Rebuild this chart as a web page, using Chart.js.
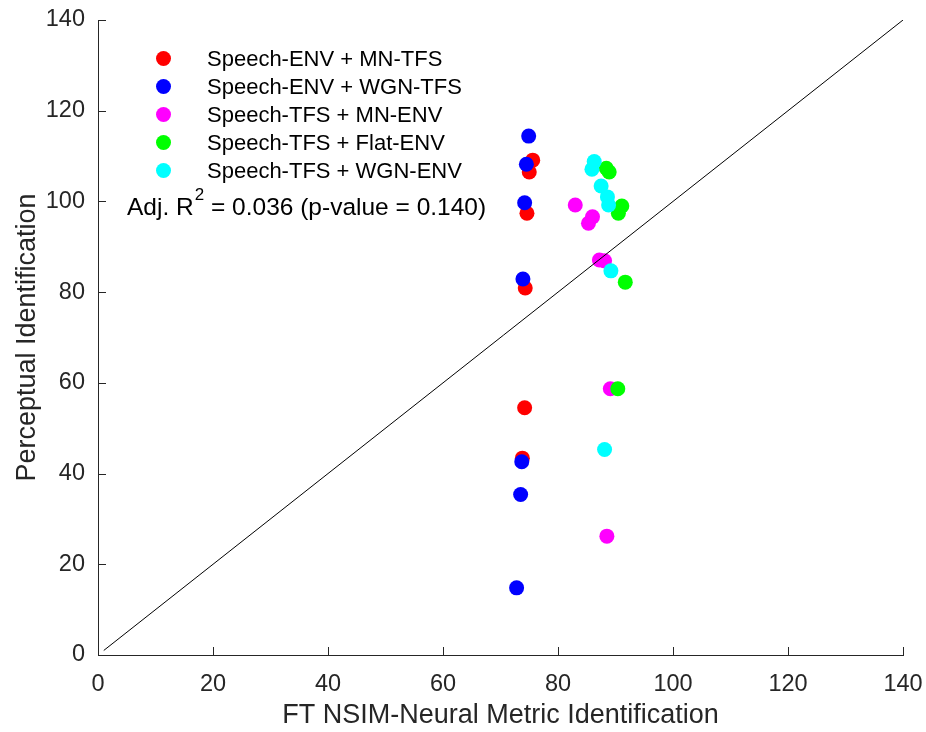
<!DOCTYPE html>
<html>
<head>
<meta charset="utf-8">
<script src="https://cdn.jsdelivr.net/npm/chart.js@4"></script>
<style>
  html, body { margin: 0; padding: 0; background: #fff; }
  #wrap { width: 926px; height: 732px; }
</style>
</head>
<body>
<div id="wrap"><canvas id="c" width="926" height="732"></canvas></div>
<script>
const FONT = "'Liberation Sans', Arial, sans-serif";
const AXIS = '#262626';

const seriesNames = ['Speech-ENV + MN-TFS', 'Speech-ENV + WGN-TFS', 'Speech-TFS + MN-ENV', 'Speech-TFS + Flat-ENV', 'Speech-TFS + WGN-ENV'];
const seriesColors = ['#ff0000', '#0000ff', '#ff00ff', '#00ff00', '#00ffff'];

// x = FT NSIM-Neural Metric Identification, y = Perceptual Identification
const envMnX = [75.6, 75.0, 74.6, 74.3, 74.2, 73.8];
const envMnY = [109.1, 106.5, 97.4, 80.9, 54.5, 43.4];

const envWgnX = [74.9, 74.5, 74.2, 73.9, 73.7, 73.5, 72.8];
const envWgnY = [114.4, 108.2, 99.7, 82.9, 42.6, 35.4, 14.8];

const tfsMnX = [83.0, 86.0, 85.3, 87.2, 88.1, 89.1, 88.5];
const tfsMnY = [99.2, 96.6, 95.2, 87.1, 86.9, 58.7, 26.2];

const tfsFlatX = [88.4, 88.9, 91.1, 90.5, 91.7, 90.4];
const tfsFlatY = [107.3, 106.5, 99.0, 97.4, 82.2, 58.7];

const tfsWgnX = [86.3, 85.9, 87.5, 88.6, 88.8, 89.2, 88.1];
const tfsWgnY = [108.8, 107.1, 103.4, 101.0, 99.2, 84.7, 45.3];

const refLineX = [1, 140];
const refLineY = [1, 140];

const axisTicks = [0, 20, 40, 60, 80, 100, 120, 140];
const statText = ['Adj. R', '2', ' = 0.036 (p-value = 0.140)'];

const seriesX = [envMnX, envWgnX, tfsMnX, tfsFlatX, tfsWgnX];
const seriesY = [envMnY, envWgnY, tfsMnY, tfsFlatY, tfsWgnY];

function pts(xs, ys) { return xs.map((x, i) => ({ x: x, y: ys[i] })); }

const datasets = seriesNames.map((name, i) => ({
  type: 'scatter',
  label: name,
  data: pts(seriesX[i], seriesY[i]),
  backgroundColor: seriesColors[i],
  borderWidth: 0,
  pointRadius: 7.5,
  pointHoverRadius: 7.5,
  order: seriesNames.length - i
}));
datasets.push({
  type: 'line',
  label: 'ref',
  data: pts(refLineX, refLineY),
  borderColor: '#000',
  borderWidth: 1,
  pointRadius: 0,
  fill: false,
  order: 0
});

// inward tick marks, MATLAB style
const inTicks = {
  id: 'inTicks',
  afterDraw(chart) {
    const { ctx, scales: { x, y }, chartArea: a } = chart;
    ctx.save();
    ctx.strokeStyle = AXIS;
    ctx.lineWidth = 1;
    ctx.beginPath();
    axisTicks.forEach(v => {
      const px = Math.round(x.getPixelForValue(v)) + 0.5;
      ctx.moveTo(px, a.bottom); ctx.lineTo(px, a.bottom - 8);
      const py = Math.round(y.getPixelForValue(v)) + 0.5;
      ctx.moveTo(a.left, py); ctx.lineTo(a.left + 8, py);
    });
    ctx.stroke();
    ctx.restore();
  }
};

const legendAndStats = {
  id: 'legendAndStats',
  afterDraw(chart) {
    const ctx = chart.ctx;
    ctx.save();
    ctx.font = '22px ' + FONT;
    ctx.textBaseline = 'middle';
    ctx.textAlign = 'left';
    chart.data.datasets.filter(d => d.type === 'scatter').forEach((d, i) => {
      const cy = 58.5 + i * 28;
      ctx.fillStyle = d.backgroundColor;
      ctx.beginPath();
      ctx.arc(163.5, cy, 7.5, 0, Math.PI * 2);
      ctx.fill();
      ctx.fillStyle = '#000';
      ctx.fillText(d.label, 207, cy + 1);
    });
    // Adj. R^2 line
    let tx = 127;
    const ty = 208;
    ctx.fillStyle = '#000';
    ctx.font = '24.5px ' + FONT;
    ctx.fillText(statText[0], tx, ty);
    tx += ctx.measureText(statText[0]).width + 1;
    ctx.font = '17px ' + FONT;
    ctx.fillText(statText[1], tx, ty - 13);
    tx += ctx.measureText(statText[1]).width;
    ctx.font = '24.5px ' + FONT;
    ctx.fillText(statText[2], tx, ty);
    ctx.restore();
  }
};

new Chart(document.getElementById('c'), {
  data: { datasets: datasets },
  options: {
    responsive: false,
    animation: false,
    layout: { padding: { top: 20, right: 23, left: 0, bottom: 0 } },
    plugins: { legend: { display: false }, tooltip: { enabled: false } },
    scales: {
      x: {
        type: 'linear', min: 0, max: 140,
        afterFit(s) { s.height = 77; s.paddingLeft = 0; s.paddingRight = 0; },
        afterBuildTicks(s) { s.ticks = axisTicks.map(v => ({ value: v })); },
        grid: { display: false },
        border: { display: true, color: AXIS, width: 1 },
        ticks: { color: AXIS, padding: 7, font: { family: FONT, size: 23.5 } },
        title: { display: true, text: 'FT NSIM-Neural Metric Identification', color: '#262626',
                 font: { family: FONT, size: 27, lineHeight: 1 }, padding: { top: 0, bottom: 2.5 } }
      },
      y: {
        type: 'linear', min: 0, max: 140,
        afterFit(s) { s.width = 98; s.paddingTop = 0; s.paddingBottom = 0; },
        afterBuildTicks(s) { s.ticks = axisTicks.map(v => ({ value: v })); },
        grid: { display: false },
        border: { display: true, color: AXIS, width: 1 },
        ticks: { color: AXIS, padding: 5, font: { family: FONT, size: 23.5 } },
        title: { display: true, text: 'Perceptual Identification', color: '#262626',
                 font: { family: FONT, size: 27, lineHeight: 1 }, padding: { top: 14, bottom: 0 } }
      }
    }
  },
  plugins: [inTicks, legendAndStats]
});
</script>
</body>
</html>
